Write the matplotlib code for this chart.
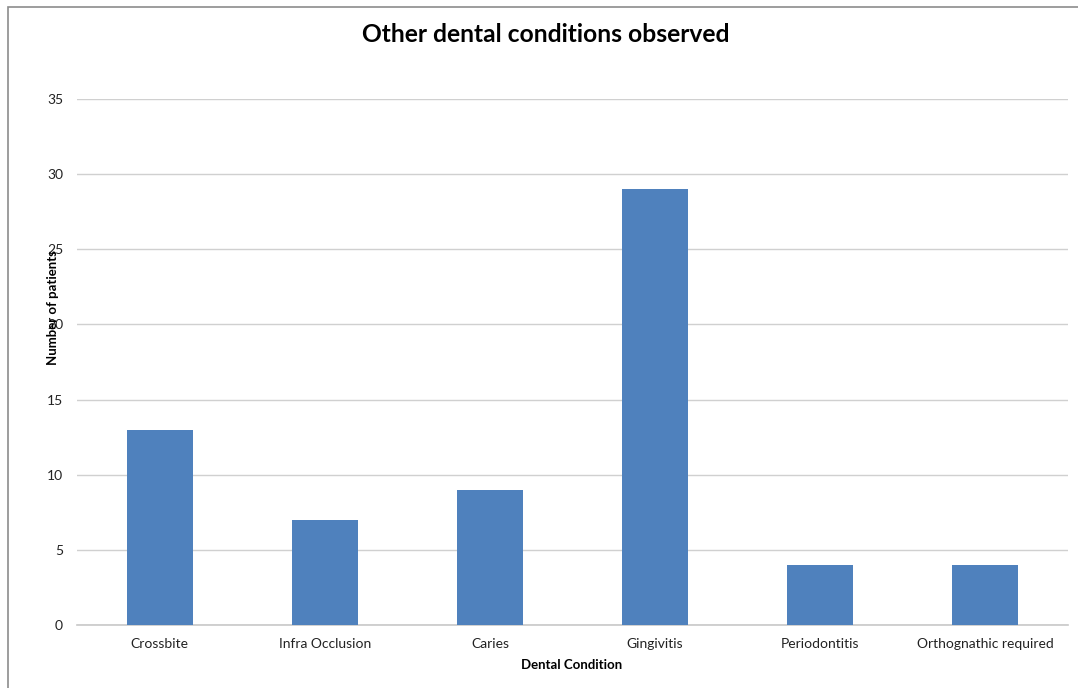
import matplotlib
matplotlib.use("Agg")
import matplotlib.pyplot as plt
from matplotlib.patches import Rectangle

conditions = ["Crossbite", "Infra Occlusion", "Caries", "Gingivitis",
              "Periodontitis", "Orthognathic required"]
patients = [13, 7, 9, 29, 4, 4]
y_ticks = [0, 5, 10, 15, 20, 25, 30, 35]

plt.rcParams["font.family"] = ["Lato", "DejaVu Sans"]

W, H = 1078, 688
fig = plt.figure(figsize=(W / 100, H / 100), dpi=100)
fig.patch.set_facecolor("white")

# outer chart frame (top and left edges visible)
fig.add_artist(Rectangle((8 / W, -0.1), 1.2, 1 - 7 / H + 0.1,
                         transform=fig.transFigure, fill=False,
                         edgecolor="#8c8c8c", linewidth=1.2))

ax = fig.add_axes([77 / W, 1 - 625 / H, (1068 - 77) / W, (625 - 99) / H])
x = range(len(conditions))
ax.bar(x, patients, width=0.4, color="#4F81BD", zorder=3)

ax.set_xlim(-0.5, len(conditions) - 0.5)
ax.set_ylim(0, 35)
ax.set_yticks(y_ticks)
ax.set_xticks(list(x))
ax.set_xticklabels(conditions, fontsize=10, color="#222222")
ax.tick_params(axis="y", labelsize=10, colors="#222222", length=0, pad=10)
ax.tick_params(axis="x", length=0, pad=9)
ax.grid(axis="y", color="#d0d0d0", linewidth=1, zorder=0)
for s in ["top", "right", "left"]:
    ax.spines[s].set_visible(False)
ax.spines["bottom"].set_color("#c8c8c8")
ax.spines["bottom"].set_linewidth(1.2)

fig.text(546 / W, 1 - 35 / H, "Other dental conditions observed",
         ha="center", va="center", fontsize=17.7, fontweight="bold")
fig.text(572 / W, 1 - 665 / H, "Dental Condition",
         ha="center", va="center", fontsize=9.5, fontweight="bold")
fig.text(53 / W, 1 - 308 / H, "Number of patients", rotation=90,
         ha="center", va="center", fontsize=9.5, fontweight="bold")

fig.savefig("out.png", dpi=100, facecolor="white")
